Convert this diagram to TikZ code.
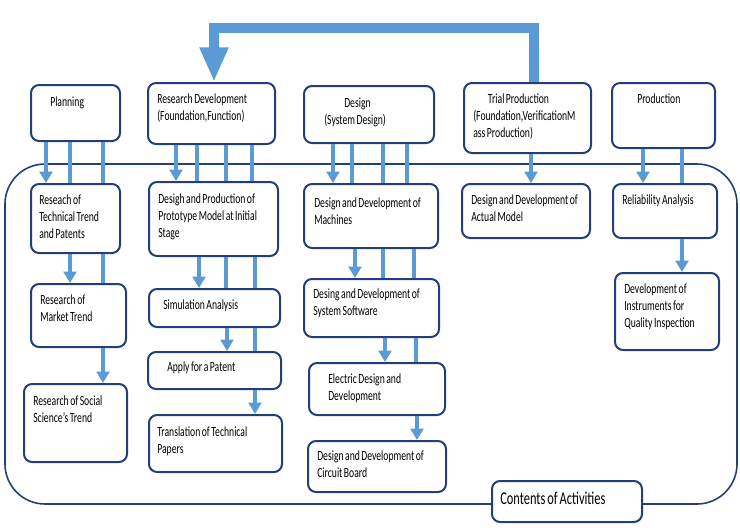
\documentclass[tikz,border=0pt]{standalone}
\usepackage{fontspec}
\setmainfont{Carlito}[FakeStretch=0.69,WordSpace=0.69]
\usetikzlibrary{arrows.meta,fit}
\definecolor{navy}{RGB}{35,62,120}
\definecolor{lblue}{RGB}{91,155,213}
\tikzset{
 box/.style={draw=navy, line width=1.5pt, rounded corners=6pt, fill=white, inner sep=0pt},
 txt/.style={anchor=base west, inner sep=0pt, align=flush left, text width=200pt, font=\fontsize{10.5pt}{12.75pt}\selectfont},
 bigtxt/.style={anchor=base west, inner sep=0pt, font=\fontsize{13.5pt}{15pt}\selectfont},
 conn/.style={draw=lblue, line width=3.4pt},
 conna/.style={conn, -{Triangle[width=9.5pt,length=8.5pt]}},
 bigarr/.style={draw=lblue, line width=8pt, -{Triangle[width=20pt,length=26pt]}},
 cont/.style={draw=navy, line width=1.2pt, rounded corners=30pt, inner sep=0pt}
}
\newcommand\bx[5]{\node[box, fit={(#2,#3)(#4,#5)}] (#1) {};}
\newcommand\tx[4]{\node[txt] (#1) at (#2,#3) {#4};}
\newcommand\cnx[4]{\draw[#1] (#2.south -| #4,0) -- (#3.north -| #4,0);}
\begin{document}
\begin{tikzpicture}[x=0.75pt,y=-0.75pt]
\useasboundingbox (0,0) rectangle (740,532);
% container
\node[cont, fit={(5,164)(737,504)}] (cont) {};
% top row
\bx{plan}{31}{85}{120}{141}
\bx{rd}{148}{83}{275}{144}
\bx{des}{304}{86}{434}{143}
\bx{tp}{464}{83}{591}{153}
\bx{prod}{612}{83}{715}{148}
% row 2
\bx{rtt}{31}{184}{120}{253}
\bx{proto}{149}{182}{278}{256}
\bx{mach}{304}{184}{438}{248}
\bx{am}{462}{184}{590}{238}
\bx{rel}{613}{184}{717}{238}
% row 3
\bx{mkt}{31}{284}{126}{347}
\bx{sim}{149}{289}{280}{327}
\bx{sw}{304}{279}{439}{337}
\bx{ins}{615}{273}{719}{350}
% row 4
\bx{pat}{148}{352}{281}{389}
\bx{el}{309}{363}{445}{415}
\bx{soc}{24}{384}{127}{462}
% row 5
\bx{tr}{149}{415}{282}{472}
\bx{cb}{308}{441}{446}{492}
% contents
\bx{ca}{492}{481}{642}{522}
% texts
\tx{t1}{50}{106}{Planning}
\tx{t2}{157}{103}{Research Development\\(Foundation,Function)}
\tx{t3}{324}{107}{\hspace*{15pt}Design\\(System Design)}
\tx{t4}{473}{103}{\hspace*{11pt}Trial Production\\(Foundation,VerificationM\\ass Production)}
\tx{t5}{637}{103}{Production}
\tx{t6}{39}{204}{Reseach of\\Technical Trend\\and Patents}
\tx{t7}{158}{203}{Desigh and Production of\\Prototype Model at Initial\\Stage}
\tx{t8}{314}{207}{Design and Development of\\Machines}
\tx{t9}{471}{204}{Design and Development of\\Actual Model}
\tx{t10}{622}{204}{Reliability Analysis}
\tx{t11}{40}{304}{Research of\\Market Trend}
\tx{t12}{163}{309}{Simulation Analysis}
\tx{t13}{313}{298}{Desing and Development of\\System Software}
\tx{t14}{624}{293}{Development of\\Instruments for\\Quality Inspection}
\tx{t15}{167}{371}{Apply for a Patent}
\tx{t16}{328}{383}{Electric Design and\\Development}
\tx{t17}{33}{405}{Research of Social\\Science's Trend}
\tx{t18}{157}{436}{Translation of Technical\\Papers}
\tx{t19}{317}{460}{Design and Development of\\Circuit Board}
\node[bigtxt] (t20) at (500,504) {Contents of Activities};
% feedback arrow
\draw[bigarr] (tp.north -| 534,0) -- (534,28) -- (214,28) -- (rd.north -| 214,0);
% planning column
\cnx{conna}{plan}{rtt}{46}
\cnx{conn}{plan}{rtt}{70}
\cnx{conn}{plan}{rtt}{103}
\cnx{conna}{rtt}{mkt}{70}
\cnx{conn}{rtt}{mkt}{103}
\cnx{conna}{mkt}{soc}{103}
% research development column
\cnx{conna}{rd}{proto}{176}
\cnx{conn}{rd}{proto}{197}
\cnx{conn}{rd}{proto}{226}
\cnx{conn}{rd}{proto}{252}
\cnx{conna}{proto}{sim}{199}
\cnx{conn}{proto}{sim}{226}
\cnx{conn}{proto}{sim}{255}
\cnx{conna}{sim}{pat}{227}
\cnx{conn}{sim}{pat}{255}
\cnx{conna}{pat}{tr}{255}
% design column
\cnx{conna}{des}{mach}{333}
\cnx{conn}{des}{mach}{352}
\cnx{conn}{des}{mach}{383}
\cnx{conn}{des}{mach}{407}
\cnx{conna}{mach}{sw}{355}
\cnx{conn}{mach}{sw}{383}
\cnx{conn}{mach}{sw}{414}
\cnx{conna}{sw}{el}{385}
\cnx{conn}{sw}{el}{416}
\cnx{conna}{el}{cb}{417}
% trial production
\cnx{conna}{tp}{am}{531}
% production
\cnx{conna}{prod}{rel}{643}
\cnx{conn}{prod}{rel}{682}
\cnx{conna}{rel}{ins}{682}
\end{tikzpicture}
\end{document}
